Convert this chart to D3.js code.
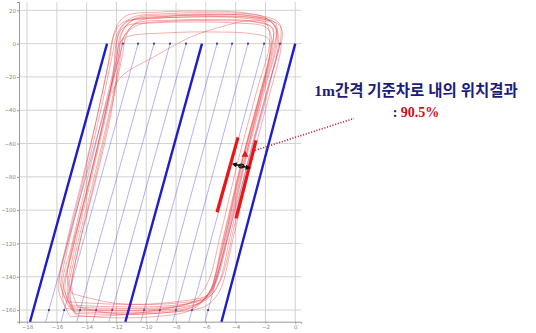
<!DOCTYPE html>
<html><head><meta charset="utf-8">
<script src="https://cdn.jsdelivr.net/npm/d3@7"></script>
<style>html,body{margin:0;padding:0;background:#fff;}svg{display:block;}</style>
</head><body>
<svg id="c" width="536" height="333"></svg>
<script>
// ---- data ----
const xTicks = [-18,-16,-14,-12,-10,-8,-6,-4,-2,0];
const yTicks = [20,0,-20,-40,-60,-80,-100,-120,-140,-160];
// lane lines: x at y=0 (top) and x at y=-167 (bottom)
const laneTopY = 0, laneBotY = -167, laneDotY = -160;
const laneTopX = [-12.63,-11.56,-10.55,-9.48,-8.40,-7.33,-6.26,-5.25,-4.24,-3.17,-2.09,-1.02,0.0];
const laneBotX = [-17.80,-16.75,-15.72,-14.66,-13.58,-12.50,-11.40,-10.36,-9.30,-8.22,-7.14,-6.06,-4.95];
const laneThick = [true,false,false,false,false,false,true,false,false,false,false,false,true];

const traceA = [[-15.0,-160],[-15.45,-148],[-14.9,-122],[-13.8,-82],[-12.7,-40],[-12.0,-10],[-11.7,6],[-10.9,14],[-8.5,16.5],[-5.5,16.8],[-2.8,15.5],[-1.4,11.5],[-1.3,0],[-2.2,-30],[-3.4,-70],[-4.6,-115],[-5.5,-146],[-6.5,-156],[-9,-160],[-12.5,-160.5],[-15.0,-160]];
const traceB = [[-15.2,-158],[-15.7,-146],[-15.2,-120],[-14.1,-80],[-13.0,-38],[-12.3,-8],[-11.9,7],[-11.0,15.5],[-8.6,18],[-5.5,18.5],[-2.6,17.2],[-1.1,12.5],[-1.0,1],[-1.9,-28],[-3.1,-68],[-4.3,-113],[-5.2,-145],[-6.2,-155],[-8.8,-158.5],[-12.4,-159],[-15.2,-158]];
const traceC = [[-14.8,-162],[-15.2,-150],[-14.7,-124],[-13.6,-84],[-12.5,-42],[-11.8,-12],[-11.5,4],[-10.7,12],[-8.4,14],[-5.6,14.5],[-2.9,13.5],[-1.6,10],[-1.5,-1],[-2.4,-32],[-3.6,-72],[-4.8,-117],[-5.7,-148],[-6.8,-158],[-9.2,-162],[-12.6,-162.5],[-14.8,-162]];
const traceD = [[-15.1,-157],[-15.6,-144],[-15.0,-121],[-14.0,-83],[-12.9,-42],[-12.1,-11],[-11.9,5],[-11.3,13],[-9,16],[-6,17.5],[-3.2,16.8],[-1.6,13],[-1.2,3],[-2.0,-26],[-3.2,-66],[-4.4,-112],[-5.3,-143],[-6.0,-153],[-8.6,-157.5],[-12.2,-158],[-15.1,-157]];
const traceE = [[-14.7,-163],[-15.1,-152],[-14.6,-125],[-13.5,-86],[-12.4,-44],[-11.9,-14],[-11.6,3],[-10.6,11],[-8.2,13.5],[-5.2,13.8],[-2.6,12.8],[-1.5,9],[-1.6,-2],[-2.5,-34],[-3.7,-74],[-4.9,-119],[-5.8,-150],[-7.0,-160],[-9.5,-164],[-12.8,-164.5],[-14.7,-163]];
const traceF = [[-15.3,-155],[-15.8,-143],[-15.3,-118],[-14.2,-78],[-13.1,-36],[-12.4,-6],[-12.1,8],[-11.4,16.5],[-9,19],[-6.2,19.5],[-3.4,18.5],[-1.9,15],[-1.15,6],[-1.7,-24],[-2.9,-64],[-4.1,-110],[-5.0,-142],[-5.8,-152],[-8.2,-156],[-12,-156.5],[-15.3,-155]];
const traceG = [[-14.9,-161],[-15.3,-149],[-14.8,-123],[-13.7,-81],[-12.6,-39],[-11.9,-9],[-11.6,7],[-10.8,15],[-8.4,17.2],[-5.4,17.6],[-2.7,16.4],[-1.3,12],[-1.4,-1],[-2.3,-31],[-3.5,-71],[-4.7,-116],[-5.6,-147],[-6.6,-157],[-9.1,-161],[-12.7,-161.5],[-14.9,-161]];
const traceH = [[-15.0,-150],[-15.3,-140],[-14.8,-118],[-13.7,-78],[-12.6,-36],[-12.0,-10],[-11.8,0],[-11.3,4],[-8.5,6.5],[-5.5,7],[-3,6],[-1.8,3],[-1.7,-5],[-2.4,-32],[-3.6,-72],[-4.7,-116],[-5.4,-140],[-5.7,-150],[-8,-155],[-12,-156],[-15.0,-150]];
const traceI = [[-12.3,-30],[-11.7,-20],[-9.5,-8],[-7,4],[-5,10],[-3,14],[-1.8,13]];
const traceJ = [[-15.4,-159],[-15.9,-147],[-15.4,-124],[-14.3,-84],[-13.3,-44],[-12.6,-14],[-12.2,4],[-11.6,12.5],[-9.2,15.2],[-6.4,16],[-3.6,15.4],[-2.0,12.4],[-1.7,2],[-2.6,-29],[-3.8,-69],[-5.0,-114],[-5.9,-144],[-6.9,-155],[-9.3,-159.5],[-12.9,-160],[-15.4,-159]];
const traceK = [[-14.6,-158],[-15.0,-147],[-14.5,-121],[-13.4,-80],[-12.3,-37],[-11.6,-7],[-11.3,6],[-10.5,13.6],[-8.0,15.8],[-4.9,16.2],[-2.3,15],[-1.0,10.5],[-0.95,-2],[-1.8,-33],[-3.0,-73],[-4.2,-118],[-5.1,-149],[-6.1,-158],[-8.7,-161.5],[-12.3,-162],[-14.6,-158]];
const traceL = [[-15.1,-164],[-15.6,-153],[-15.1,-127],[-14.0,-88],[-12.9,-47],[-12.2,-17],[-12.0,1],[-11.5,10],[-9.4,12.5],[-6.8,13],[-4.0,12.4],[-2.0,10],[-1.6,4],[-2.0,-20],[-3.1,-60],[-4.3,-106],[-5.2,-138],[-5.9,-151],[-8.1,-158],[-11.8,-163],[-15.1,-164]];
const traces = [traceA, traceB, traceC, traceD, traceE, traceF, traceG, traceH, traceI, traceJ, traceK, traceL];

// result bars (lane boundary of the reference lane)
const barLeft  = [[-3.84,-56.3],[-5.25,-101.3]];
const barRight = [[-2.63,-58.1],[-3.97,-105]];
const markerTri = [-3.37,-66.5];
const arrowPts = [[-4.1,-72.5],[-3.15,-74.5]];
const leaderLine = [[-2.70,-64.1],[3.95,-44.9]];
const title1 = "1m간격 기준차로 내의 위치결과";
const title2a = ": ", title2b = "90.5%";

// ---- drawing ----
const svg = d3.select("#c");
const x = d3.scaleLinear().domain([-18.54, 0.4]).range([19, 301.2]);
const y = d3.scaleLinear().domain([25, -167]).range([2, 321.7]);
const [x0, x1] = x.range(), [y0, y1] = y.range();

// grid
svg.append("g").selectAll("line").data(xTicks).join("line")
  .attr("x1", d => x(d)).attr("x2", d => x(d)).attr("y1", y0).attr("y2", y1)
  .attr("stroke", "#d2d2d2").attr("stroke-width", 1);
svg.append("g").selectAll("line").data(yTicks).join("line")
  .attr("x1", x0).attr("x2", x1).attr("y1", d => y(d)).attr("y2", d => y(d))
  .attr("stroke", "#d2d2d2").attr("stroke-width", 1);

// axes
const ax = svg.append("g").attr("transform", `translate(${x0},0)`)
  .call(d3.axisLeft(y).tickValues(yTicks).tickSize(2).tickPadding(1));
const bx = svg.append("g").attr("transform", `translate(0,${y1})`)
  .call(d3.axisBottom(x).tickValues(xTicks).tickSize(2).tickPadding(1));
[ax, bx].forEach(g => {
  g.select(".domain").attr("stroke", "#999");
  g.selectAll(".tick line").attr("stroke", "#999");
  g.selectAll("text").attr("fill", "#888").attr("font-size", 5.5).attr("font-family", "DejaVu Sans");
});

const lanes = laneTopX.map((t, i) => ({t, b: laneBotX[i], thick: laneThick[i]}));
const laneXAt = (d, yy) => d.t + (d.b - d.t) * (yy - laneTopY) / (laneBotY - laneTopY);

// thin lanes
svg.append("g").selectAll("line").data(lanes.filter(d => !d.thick)).join("line")
  .attr("x1", d => x(d.t)).attr("y1", y(laneTopY)).attr("x2", d => x(d.b)).attr("y2", y(laneBotY))
  .attr("stroke", "#4a4ad8").attr("stroke-opacity", 0.6).attr("stroke-width", 0.7);
// dots
const dots = [];
lanes.filter(d => !d.thick).forEach(d => { dots.push([d.t, laneTopY]); dots.push([laneXAt(d, laneDotY), laneDotY]); });
svg.append("g").selectAll("circle").data(dots).join("circle")
  .attr("cx", d => x(d[0])).attr("cy", d => y(d[1])).attr("r", 1.1).attr("fill", "#3a3aa0");

// red trajectories
const line = d3.line().x(d => x(d[0])).y(d => y(d[1])).curve(d3.curveCatmullRom.alpha(0.5));
svg.append("g").selectAll("path").data(traces).join("path")
  .attr("d", line).attr("fill", "none")
  .attr("stroke", "#e8403f").attr("stroke-opacity", 0.5).attr("stroke-width", 0.85);

// thick lanes
svg.append("g").selectAll("line").data(lanes.filter(d => d.thick)).join("line")
  .attr("x1", d => x(d.t)).attr("y1", y(laneTopY)).attr("x2", d => x(d.b)).attr("y2", y(laneBotY))
  .attr("stroke", "#1e1ec8").attr("stroke-width", 2.4);

// red bars
svg.append("g").selectAll("line").data([barLeft, barRight]).join("line")
  .attr("x1", d => x(d[0][0])).attr("y1", d => y(d[0][1])).attr("x2", d => x(d[1][0])).attr("y2", d => y(d[1][1]))
  .attr("stroke", "#ec1515").attr("stroke-width", 3.2);

// leader dotted line
svg.append("line")
  .attr("x1", x(leaderLine[0][0])).attr("y1", y(leaderLine[0][1]))
  .attr("x2", x(leaderLine[1][0])).attr("y2", y(leaderLine[1][1]))
  .attr("stroke", "#c03048").attr("stroke-width", 1.6).attr("stroke-dasharray", "1.2,1.6");

// triangle marker
const tx = x(markerTri[0]), ty = y(markerTri[1]);
svg.append("path").attr("d", `M${tx},${ty-3.5}L${tx+3.5},${ty+2.5}L${tx-3.5},${ty+2.5}Z`).attr("fill", "#e01818");

// black double arrow
const defs = svg.append("defs");
defs.append("marker").attr("id", "ah").attr("viewBox", "0 0 10 10").attr("refX", 5).attr("refY", 5)
  .attr("markerWidth", 3.5).attr("markerHeight", 3.5).attr("orient", "auto-start-reverse")
  .append("path").attr("d", "M0,0L10,5L0,10Z").attr("fill", "#111");
svg.append("line")
  .attr("x1", x(arrowPts[0][0])).attr("y1", y(arrowPts[0][1]))
  .attr("x2", x(arrowPts[1][0])).attr("y2", y(arrowPts[1][1]))
  .attr("stroke", "#111").attr("stroke-width", 1.5)
  .attr("marker-start", "url(#ah)").attr("marker-end", "url(#ah)");
svg.append("ellipse")
  .attr("cx", (x(arrowPts[0][0]) + x(arrowPts[1][0])) / 2).attr("cy", (y(arrowPts[0][1]) + y(arrowPts[1][1])) / 2)
  .attr("rx", 2.6).attr("ry", 1.9).attr("fill", "none").attr("stroke", "#111").attr("stroke-width", 1.1);

// annotation text
const ff = "'Liberation Serif','Noto Sans CJK KR',serif";
svg.append("text").attr("x", 416).attr("y", 96).attr("text-anchor", "middle")
  .attr("font-family", ff).attr("font-weight", "bold").attr("font-size", 15.5)
  .attr("fill", "#1c1c78").text(title1);
const t2 = svg.append("text").attr("x", 416).attr("y", 117).attr("text-anchor", "middle")
  .attr("font-family", ff).attr("font-weight", "bold").attr("font-size", 14);
t2.append("tspan").attr("fill", "#1c1c78").text(title2a);
t2.append("tspan").attr("fill", "#c41020").text(title2b);
</script>
</body></html>
